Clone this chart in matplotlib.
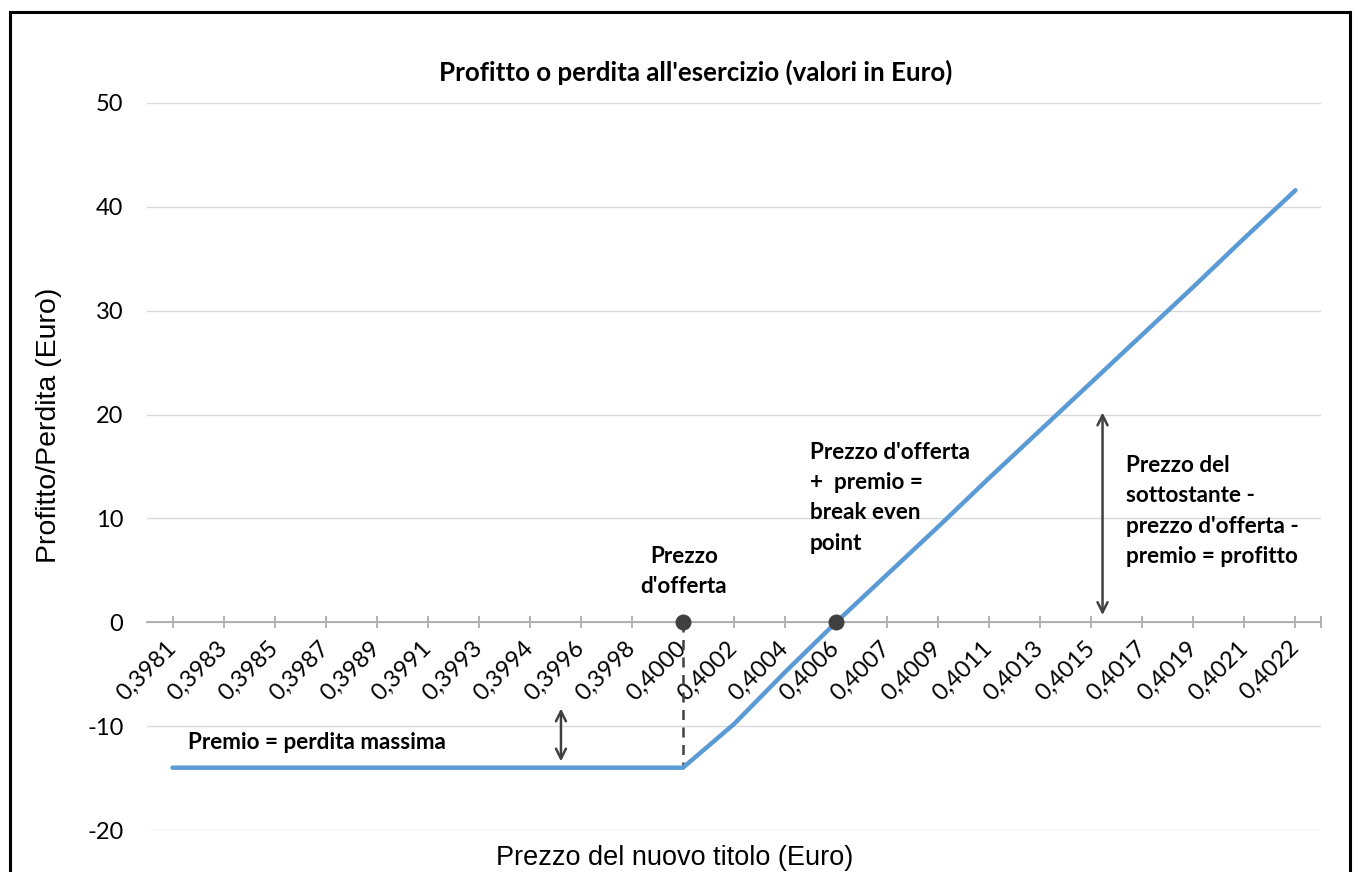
import matplotlib
matplotlib.use("Agg")
import matplotlib.pyplot as plt
from matplotlib.patches import Rectangle

plt.rcParams["axes.unicode_minus"] = False

# prices (category labels) and profit/loss at exercise
prezzi = ["0,3981", "0,3983", "0,3985", "0,3987", "0,3989", "0,3991", "0,3993",
          "0,3994", "0,3996", "0,3998", "0,4000", "0,4002", "0,4004", "0,4006",
          "0,4007", "0,4009", "0,4011", "0,4013", "0,4015", "0,4017", "0,4019",
          "0,4021", "0,4022"]
profitto = [-14, -14, -14, -14, -14, -14, -14, -14, -14, -14, -14,
            -9.8, -4.8, 0, 4.6, 9.2, 13.9, 18.5, 23.1, 27.7, 32.3, 37.0, 41.6]

strike_idx = 10      # 0,4000
breakeven_idx = 13   # 0,4006

calibri = "Lato"
arial = "Liberation Sans"
dark = "#404040"

fig = plt.figure(figsize=(13.58, 8.72), dpi=100)
ax = fig.add_axes([147 / 1358, 1 - 830 / 872, 1174 / 1358, 727 / 872])

x = list(range(len(prezzi)))
ax.plot(x, profitto, color="#5B9BD5", lw=3.2, solid_capstyle="round", zorder=3)

# strike price marker and dashed drop line
ax.plot([strike_idx, strike_idx], [0, profitto[strike_idx]], color=dark,
        ls=(0, (4, 3)), lw=1.8, zorder=2)
ax.plot([strike_idx, breakeven_idx], [0, 0], ls="none", marker="o",
        ms=10.5, color=dark, zorder=4)

ax.set_xlim(-0.5, len(prezzi) - 0.5)
ax.set_ylim(-20, 50)
ax.set_yticks(range(-20, 51, 10))
ax.grid(axis="y", color="#D9D9D9", lw=1)
ax.set_axisbelow(True)

for s in ["left", "right", "top"]:
    ax.spines[s].set_visible(False)
ax.spines["bottom"].set_position(("data", 0))
ax.spines["bottom"].set_color("#A6A6A6")
ax.spines["bottom"].set_linewidth(1.2)

ax.set_xticks(x + [len(prezzi) - 0.5])
ax.set_xticklabels(prezzi + [""], rotation=45, ha="right", va="center",
                   rotation_mode="anchor", fontsize=17, family=calibri)
ax.tick_params(axis="x", direction="inout", length=8, color="#A6A6A6",
               width=1.2, pad=12)
ax.tick_params(axis="y", length=0, pad=17, labelsize=17)
for lab in ax.get_yticklabels():
    lab.set_family(calibri)

ax.set_ylabel("Profitto/Perdita (Euro)", family=arial, fontsize=20.5)
ax.yaxis.set_label_coords(-0.072, 0.556)
fig.text(675 / 1358, 1 - 858 / 872, "Prezzo del nuovo titolo (Euro)",
         family=arial, fontsize=19.5, ha="center", va="center")
fig.text(696 / 1358, 1 - 72 / 872,
         "Profitto o perdita all'esercizio (valori in Euro)",
         family=calibri, weight="bold", fontsize=18.6, ha="center", va="center")

# annotations
txt = dict(family=calibri, weight="bold", fontsize=16.2, linespacing=1.55)
ax.text(0.31, -11.6, "Premio = perdita massima", ha="left", va="center", **txt)
ax.text(10.02, 4.9, "Prezzo\nd'offerta", ha="center", va="center", **txt)
ax.text(12.49, 12.0, "Prezzo d'offerta\n+  premio =\nbreak even\npoint",
        ha="left", va="center", **txt)
ax.text(18.67, 10.7, "Prezzo del\nsottostante -\nprezzo d'offerta -\npremio = profitto",
        ha="left", va="center", **txt)

arrow = dict(arrowstyle="<->", color=dark, lw=1.8, mutation_scale=18,
             shrinkA=0, shrinkB=0)
ax.annotate("", xy=(18.22, 20.2), xytext=(18.22, 0.7), arrowprops=arrow)
ax.annotate("", xy=(7.61, -8.3), xytext=(7.61, -13.4), arrowprops=arrow)

# outer frame (bottom edge off the picture)
fig.patches.append(Rectangle((10 / 1358, -0.05), 1340 / 1358, 1.05 - 12 / 872,
                             transform=fig.transFigure, fill=False,
                             edgecolor="black", lw=2.2))

fig.savefig("out.png", dpi=100)
